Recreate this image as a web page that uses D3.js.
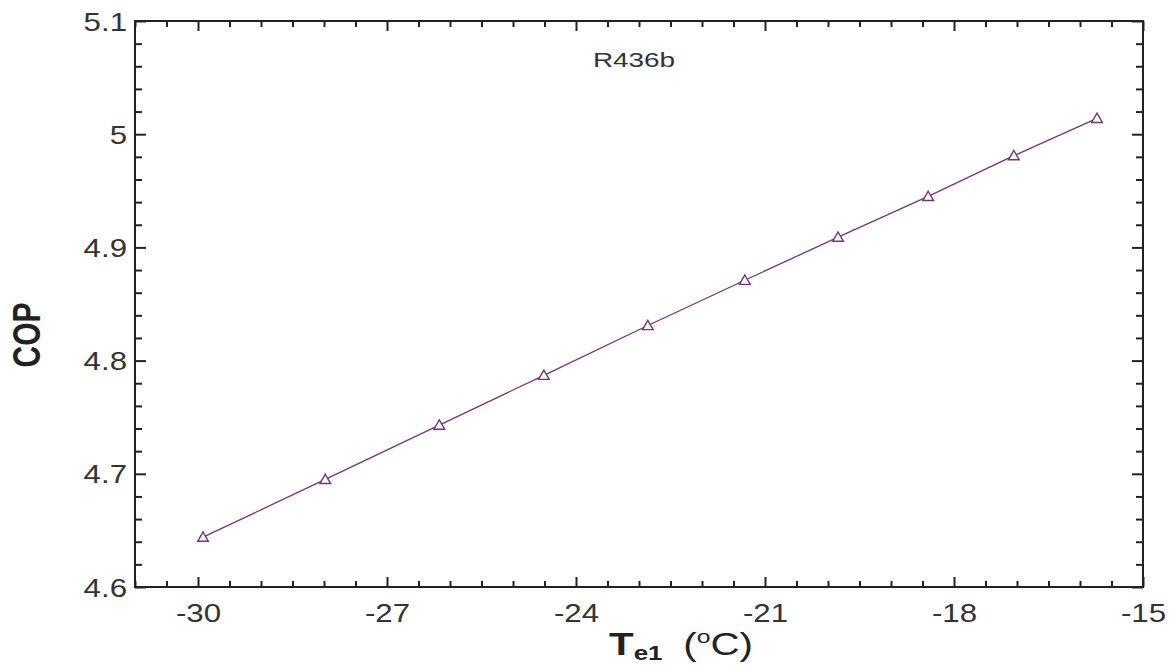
<!DOCTYPE html>
<html>
<head>
<meta charset="utf-8">
<script src="https://cdn.jsdelivr.net/npm/d3@7"></script>
<style>
  html, body { margin: 0; padding: 0; background: #fff; }
  svg { display: block; font-family: "Liberation Sans", Arial, sans-serif; }
</style>
</head>
<body>
<svg id="chart" width="1176" height="666"></svg>
<script>
// Evaporator temperature (°C) and corresponding COP for R436b
const te1 = [-29.92, -27.98, -26.17, -24.51, -22.86, -21.32, -19.84, -18.41, -17.05, -15.73];
const cop = [4.644, 4.695, 4.743, 4.787, 4.831, 4.871, 4.909, 4.945, 4.981, 5.014];
const xTicks = [-30, -27, -24, -21, -18, -15];
const yTicks = [4.6, 4.7, 4.8, 4.9, 5.0, 5.1];
const yTickLabels = ["4.6", "4.7", "4.8", "4.9", "5", "5.1"];
const seriesName = "R436b";

const W = 1176, H = 666;
const margin = { left: 135, top: 21, right: 33, bottom: 79 };
const iw = W - margin.left - margin.right;
const ih = H - margin.top - margin.bottom;
const stretch = 1.25;   // text is drawn horizontally widened

const svg = d3.select("#chart");
const g = svg.append("g").attr("transform", `translate(${margin.left},${margin.top})`);

const x = d3.scaleLinear().domain([-31, -15]).range([0, iw]);
const y = d3.scaleLinear().domain([4.6, 5.1]).range([ih, 0]);

const axisColor = "#222";
const labelColor = "#333";
const lineColor = "#74347a";

// minor tick positions
const xMinor = d3.range(-31, -14.99, 0.5).filter(v => !xTicks.some(t => Math.abs(t - v) < 1e-6));
const yMinor = d3.range(4.6, 5.1001, 0.02).filter(v => !yTicks.some(t => Math.abs(t - v) < 1e-6));

function styleAxis(sel) {
  sel.select(".domain").remove();
  sel.selectAll(".tick line").attr("stroke", axisColor).attr("stroke-width", 2);
}

// bottom axis (labels) and top axis (ticks only), ticks pointing inward
const bottom = g.append("g").attr("transform", `translate(0,${ih})`)
  .call(d3.axisBottom(x).tickValues(xTicks).tickSizeInner(-10).tickSizeOuter(0).tickFormat(d => String(d)));
styleAxis(bottom);
bottom.selectAll("text")
  .attr("y", 35).attr("dy", null)
  .attr("font-size", 25).attr("fill", labelColor)
  .attr("transform", `scale(${stretch},1)`);
g.append("g").attr("transform", `translate(0,${ih})`)
  .call(d3.axisBottom(x).tickValues(xMinor).tickSizeInner(-6).tickSizeOuter(0).tickFormat(""))
  .call(styleAxis);

g.append("g").call(d3.axisTop(x).tickValues(xTicks).tickSizeInner(-10).tickSizeOuter(0).tickFormat("")).call(styleAxis);
g.append("g").call(d3.axisTop(x).tickValues(xMinor).tickSizeInner(-6).tickSizeOuter(0).tickFormat("")).call(styleAxis);

// left axis (labels) and right axis (ticks only)
const left = g.append("g")
  .call(d3.axisLeft(y).tickValues(yTicks).tickSizeInner(-11).tickSizeOuter(0)
    .tickFormat((d, i) => yTickLabels[i]));
styleAxis(left);
left.selectAll("text")
  .attr("x", -8 / stretch).attr("dy", "0.36em")
  .attr("font-size", 25).attr("fill", labelColor)
  .attr("transform", `scale(${stretch},1)`);
g.append("g").call(d3.axisLeft(y).tickValues(yMinor).tickSizeInner(-7).tickSizeOuter(0).tickFormat("")).call(styleAxis);

g.append("g").attr("transform", `translate(${iw},0)`)
  .call(d3.axisRight(y).tickValues(yTicks).tickSizeInner(-11).tickSizeOuter(0).tickFormat("")).call(styleAxis);
g.append("g").attr("transform", `translate(${iw},0)`)
  .call(d3.axisRight(y).tickValues(yMinor).tickSizeInner(-7).tickSizeOuter(0).tickFormat("")).call(styleAxis);

// frame
g.append("rect").attr("x", 0).attr("y", 0).attr("width", iw).attr("height", ih)
  .attr("fill", "none").attr("stroke", axisColor).attr("stroke-width", 2);

// data line
const pts = te1.map((t, i) => ({ t, c: cop[i] }));
g.append("path").datum(pts)
  .attr("fill", "none").attr("stroke", lineColor).attr("stroke-width", 1.3)
  .attr("d", d3.line().x(d => x(d.t)).y(d => y(d.c)));

// open triangle markers
const tri = d3.symbol().type(d3.symbolTriangle).size(50);
g.selectAll(".pt").data(pts).join("path")
  .attr("class", "pt")
  .attr("transform", d => `translate(${x(d.t)},${y(d.c) + 1})`)
  .attr("d", tri)
  .attr("fill", "#fff").attr("stroke", lineColor).attr("stroke-width", 1.4);

// series label
svg.append("text").attr("transform", `translate(634,67) scale(1.33,1)`)
  .attr("text-anchor", "middle").attr("font-size", 21).attr("fill", labelColor).text(seriesName);

// y-axis title
svg.append("text").attr("transform", `translate(40,335) scale(1.3,1) rotate(-90)`)
  .attr("text-anchor", "middle").attr("font-size", 30).attr("font-weight", "bold").attr("fill", "#222")
  .text("COP");

// x-axis title
const xt = svg.append("text").attr("transform", `translate(753,655) scale(1.3,1)`)
  .attr("text-anchor", "end").attr("font-size", 31).attr("fill", "#222");
xt.append("tspan").attr("font-weight", "bold").text("T");
xt.append("tspan").attr("font-weight", "bold").attr("font-size", 20).attr("dy", 5).text("e1");
xt.append("tspan").attr("dy", -5).attr("dx", 16).text("(");
xt.append("tspan").attr("font-size", 19).attr("dy", -12).text("o");
xt.append("tspan").attr("dy", 12).text("C)");
</script>
</body>
</html>
